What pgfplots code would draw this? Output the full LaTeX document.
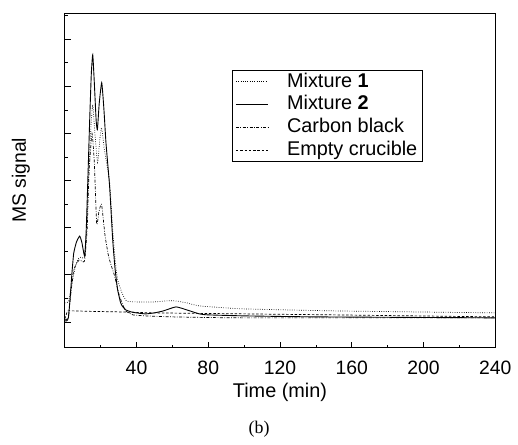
\documentclass[border=0pt]{standalone}
\usepackage{pgfplots}
\pgfplotsset{compat=1.18}
\usepackage{fontspec}
\setmainfont{Liberation Sans}
\newfontfamily\serifb{Liberation Serif}
\begin{document}
\fontsize{20}{24}\selectfont
\begin{tikzpicture}
\begin{axis}[
  scale only axis, width=432bp, height=336bp,
  xmin=0, xmax=240, ymin=0, ymax=336,
  axis line style={line width=0.8bp},
  tick align=inside, xtick pos=bottom, ytick pos=left,
  xtick={40,80,...,240}, minor xtick={20,60,...,220},
  ytick={26,73.3,120.6,167.9,215.2,262.5,309.8},
  minor ytick={49.6,96.9,144.2,191.5,238.8,286.1,333.4},
  yticklabels={},
  major tick length=6bp, minor tick length=3bp,
  tick style={line width=0.6bp, black},
  /pgf/number format/assume math mode=true,
  xticklabel style={anchor=base, yshift=-27bp, font=\fontsize{19.5}{23}\selectfont},
  xlabel={Time (min)}, ylabel={MS signal},
  xlabel style={at={(axis description cs:0.5,-0.134)}, anchor=center, font=\fontsize{20}{24}\selectfont},
  ylabel style={at={(axis description cs:-0.102,0.5)}, anchor=center, font=\fontsize{19.5}{23}\selectfont},
  legend style={at={(rel axis cs:0.389,0.830)}, anchor=north west, draw=black, line width=0.8bp,
    font=\fontsize{20}{24}\selectfont, row sep=1.5bp, inner xsep=3bp, inner ysep=0.5bp},
  legend cell align=left,
  legend image code/.code={\draw[#1, line width=0.7bp] (0bp,0bp) -- (32bp,0bp);},
]
\addplot[black, line width=0.7bp, dash pattern=on 0.7bp off 1.6bp, smooth, tension=0.3] coordinates {
(0,45) (2,46) (3,55) (4.5,69) (6,82) (7.4,89) (9,91) (11,91) (12.2,120) (13.5,180) (14.6,222) (15.6,244) (16.8,215) (18.3,186) (19.5,208) (20.5,221) (22,200) (25,166) (26.7,119) (28,90) (29.4,69) (31.7,56) (34.4,47) (40,46) (50,46) (56,47) (62,47) (68,45) (75,42) (90,40) (100,39) (150,37) (240,35)
};
\addlegendentry{\hspace*{17bp}Mixture \textbf{1}}
\addplot[black, line width=0.9bp, smooth, tension=0.3] coordinates {
(0,27) (1,27) (2,30) (3,50) (4,75) (5,95) (6.5,106) (8.3,112) (9.5,106) (11.1,92) (12,120) (12.8,165) (13.9,229) (14.8,275) (15.6,294) (16.5,265) (17.5,228) (18.2,219) (19.2,245) (20.6,266) (21.8,240) (23,205) (25,162) (26.7,109) (28,80) (29.4,59) (31,46) (32,42) (34,38) (37,36) (40,35) (45,34) (50,35) (55,37) (62,41) (68,38) (75,34) (80,33) (100,32) (140,31) (240,30)
};
\addlegendentry{\hspace*{17bp}Mixture \textbf{2}}
\addplot[black, line width=0.7bp, dash pattern=on 3bp off 1.5bp on 0.8bp off 1.5bp, smooth, tension=0.3] coordinates {
(0,28) (2,30) (3,48) (5,78) (8,88) (11,87) (12.5,120) (13.5,175) (15.2,215) (16.5,185) (17.8,124) (19,136) (20.5,144) (22.5,112) (24.4,92) (26,82) (27.8,72) (30,55) (31.7,46) (34,37) (38,33) (45,32) (60,31) (100,30) (240,30)
};
\addlegendentry{\hspace*{17bp}Carbon black}
\addplot[black, line width=0.7bp, dash pattern=on 2.5bp off 1.8bp] coordinates {
(0,29) (1.5,37) (5,37) (15,36.5) (30,36) (50,35) (100,34) (150,33) (240,31)
};
\addlegendentry{\hspace*{17bp}Empty crucible}
\end{axis}
\node[font=\serifb\fontsize{18}{21}\selectfont] at ([xshift=195bp,yshift=-82bp]current axis.south west) {(b)};
\useasboundingbox (current axis.south west) ++(-65bp,-90bp) rectangle ++(518bp,439bp);
\end{tikzpicture}
\end{document}
